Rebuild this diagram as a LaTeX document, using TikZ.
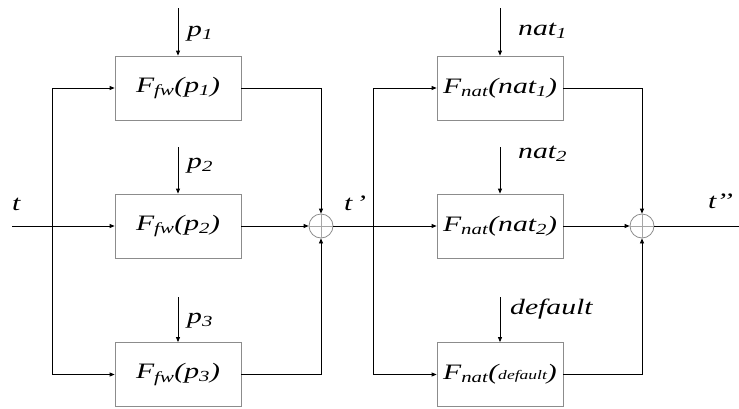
\documentclass[tikz,border=0pt]{standalone}
\usepackage{fontspec}
\setmainfont{Liberation Serif}[FakeStretch=1.35]
\usetikzlibrary{arrows.meta,positioning}

\begin{document}
\begin{tikzpicture}[x=1pt, y=-1pt, font=\fontsize{22}{24}\selectfont\itshape, every node/.style={inner sep=0pt}]
        \tikzset{
            blk/.style={draw=black!45, line width=0.8pt, fill=white, minimum width=126pt, minimum height=64pt},
            sumnode/.style={circle, draw=black!45, line width=0.8pt, minimum size=24pt},
            arr/.style={-{Triangle[length=5pt,width=4pt]}, line width=0.8pt},
            wire/.style={line width=0.8pt},
            lbl/.style={anchor=base west}
        }
        \useasboundingbox (0,0) rectangle (739,408);
        % forward stage
        \node[blk] (fwa) at (178,88) {F\textsubscript{fw}(p\textsubscript{1})};
        \node[blk] (fwb) at (178,226) {F\textsubscript{fw}(p\textsubscript{2})};
        \node[blk] (fwc) at (178,374.5) {F\textsubscript{fw}(p\textsubscript{3})};
        \node[sumnode] (suma) at (321,226) {};
        % natural stage
        \node[blk] (nata) at (500,88) {F\textsubscript{nat}(nat\textsubscript{1})};
        \node[blk] (natb) at (500,226) {F\textsubscript{nat}(nat\textsubscript{2})};
        \node[blk] (natc) at (500,374.5) {F\textsubscript{nat}({\fontsize{13}{14}\selectfont default})};
        \node[sumnode] (sumb) at (642,226) {};
        \draw[black!35, line width=0.5pt] (suma.north) -- (suma.south) (suma.west) -- (suma.east);
        \draw[black!35, line width=0.5pt] (sumb.north) -- (sumb.south) (sumb.west) -- (sumb.east);
        % parameters
        \coordinate (pa) at (178,8);
        \coordinate (pb) at (178,147);
        \coordinate (pc) at (178,297);
        \coordinate (na) at (500,8);
        \coordinate (nb) at (500,147);
        \coordinate (nc) at (500,297);
        \node[lbl] (pal) at (187,36) {p\textsubscript{1}};
        \node[lbl] (pbl) at (187,168) {p\textsubscript{2}};
        \node[lbl] (pcl) at (187,323) {p\textsubscript{3}};
        \node[lbl] (nal) at (518,35) {nat\textsubscript{1}};
        \node[lbl] (nbl) at (518,158) {nat\textsubscript{2}};
        \node[lbl] (ncl) at (510,314) {default};
        \draw[arr] (pa) -- (fwa.north);
        \draw[arr] (pb) -- (fwb.north);
        \draw[arr] (pc) -- (fwc.north);
        \draw[arr] (na) -- (nata.north);
        \draw[arr] (nb) -- (natb.north);
        \draw[arr] (nc) -- (natc.north);
        % signal path
        \coordinate (in) at (12,226);
        \coordinate (spa) at (52,226);
        \coordinate (spb) at (373,226);
        \coordinate (out) at (739,226);
        \node[lbl] (tin) at (12,210) {t};
        \node[lbl] (tmid) at (344,210) {t\,’};
        \node[lbl] (tout) at (708,208) {t’{}’};
        \draw[wire] (in) -- (spa);
        \draw[arr] (spa) -- (fwb.west);
        \draw[arr] (spa) |- (fwa.west);
        \draw[arr] (spa) |- (fwc.west);
        \draw[arr] (fwa.east) -| (suma.north);
        \draw[arr] (fwb.east) -- (suma.west);
        \draw[arr] (fwc.east) -| (suma.south);
        \draw[wire] (suma.east) -- (spb);
        \draw[arr] (spb) -- (natb.west);
        \draw[arr] (spb) |- (nata.west);
        \draw[arr] (spb) |- (natc.west);
        \draw[arr] (nata.east) -| (sumb.north);
        \draw[arr] (natb.east) -- (sumb.west);
        \draw[arr] (natc.east) -| (sumb.south);
        \draw[wire] (sumb.east) -- (out);
    \end{tikzpicture}
\end{document}
